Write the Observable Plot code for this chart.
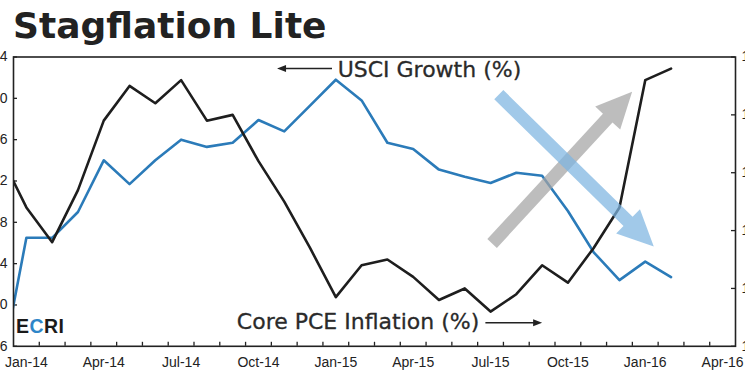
<!DOCTYPE html>
<html>
<head>
<meta charset="utf-8">
<script src="https://cdn.jsdelivr.net/npm/d3@7"></script>
<script src="https://cdn.jsdelivr.net/npm/@observablehq/plot@0.6"></script>
<style>
  html, body { margin: 0; padding: 0; background: #fff; overflow: hidden; }
  #wrap { position: relative; width: 745px; height: 390px; overflow: hidden; background: #fff; }
  #title { position: absolute; left: 13px; top: 8px; margin: 0; font-family: "DejaVu Sans", sans-serif; font-weight: bold; font-size: 36px; line-height: 1; color: #222; white-space: nowrap; }
  #chart { position: absolute; left: -27.3px; top: 0; width: 802px; height: 390px; }
  #chart svg { max-width: none !important; width: 802px; height: 390px; }
  #logo { position: absolute; left: 16px; top: 316.5px; font-family: "Liberation Sans", Arial, sans-serif; font-weight: bold; font-size: 19.5px; line-height: 1; color: #1a1a1a; letter-spacing: 0.4px; }
  #logo .c { color: #2f86c8; }
</style>
</head>
<body>
<div id="wrap">
  <h1 id="title">Stagflation Lite</h1>
  <div id="chart"></div>
  <div id="logo">E<span class="c">C</span>RI</div>
</div>
<script>
// Months (Dec-13 is only partly visible, clipped at the left frame edge)
const months = ["Dec-13","Jan-14","Feb-14","Mar-14","Apr-14","May-14","Jun-14","Jul-14","Aug-14","Sep-14","Oct-14","Nov-14","Dec-14",
  "Jan-15","Feb-15","Mar-15","Apr-15","May-15","Jun-15","Jul-15","Aug-15","Sep-15","Oct-15","Nov-15","Dec-15","Jan-16","Feb-16"];
// USCI growth (%), left axis
const usciGrowth = [0.35,1.65,1.65,1.90,2.40,2.17,2.40,2.60,2.53,2.57,2.79,2.68,2.93,3.18,2.98,2.57,2.51,2.31,2.24,2.18,2.28,2.25,1.91,1.51,1.24,1.42,1.27];
// Core PCE inflation (%), right axis
const corePce = [1.53,1.44,1.38,1.47,1.59,1.65,1.62,1.66,1.59,1.60,1.52,1.45,1.37,1.285,1.34,1.35,1.32,1.28,1.30,1.26,1.29,1.34,1.31,1.37,1.44,1.66,1.68];
// Axis ticks
const xTickLabels = ["Jan-14","Apr-14","Jul-14","Oct-14","Jan-15","Apr-15","Jul-15","Oct-15","Jan-16","Apr-16"];
const leftTicks = [0.6,1.0,1.4,1.8,2.2,2.6,3.0,3.4];
const rightTicks = [1.2,1.3,1.4,1.5,1.6,1.7];
// Annotation arrows (month index, left-axis units)
const trendArrows = [
  {x1: 18.58, y1: 1.59, x2: 24.01, y2: 3.06, fill: "#a3a3a3"},
  {x1: 18.84, y1: 3.03, x2: 24.85, y2: 1.56, fill: "#7db4e0"}
];
const labelArrows = [
  {x1: 12.37, y1: 3.285, x2: 10.24, y2: 3.285, fill: "#222"},
  {x1: 18.32, y1: 0.823, x2: 20.52, y2: 0.823, fill: "#222"}
];
const annotations = [
  {x: 12.57, y: 3.272, text: "USCI Growth (%)"},
  {x: 8.66, y: 0.837, text: "Core PCE Inflation (%)"}
];

// Month index -> x position (centre of the month band); Jan-14 band starts at 0
const startIdx = -1;
const xPos = (i) => i + startIdx + 0.5;
const yMin = 0.6, yMax = 3.4, rMin = 1.2, rMax = 1.7;
const toLeft = (r) => yMin + (r - rMin) * (yMax - yMin) / (rMax - rMin);
const toRight = (l) => rMin + (l - yMin) * (rMax - rMin) / (yMax - yMin);

const usciData = months.map((m, i) => ({x: xPos(i), v: usciGrowth[i]}));
const pceData = months.map((m, i) => ({x: xPos(i), v: toLeft(corePce[i])}));

function arrowMark(data, {shaft, headWidth, headLength, opacity}) {
  return (...args) => {
    const scales = args.find(a => a && typeof a.x === "function" && typeof a.y === "function");
    const g = d3.create("svg:g");
    for (const a of data) {
      const x1 = scales.x(a.x1), y1 = scales.y(a.y1), x2 = scales.x(a.x2), y2 = scales.y(a.y2);
      const dx = x2 - x1, dy = y2 - y1, L = Math.hypot(dx, dy);
      const ux = dx / L, uy = dy / L, px = -uy, py = ux;
      const hw = shaft / 2, HW = headWidth / 2;
      const bx = x2 - ux * headLength, by = y2 - uy * headLength;
      const pts = [[x1 + px*hw, y1 + py*hw], [bx + px*hw, by + py*hw], [bx + px*HW, by + py*HW], [x2, y2],
                   [bx - px*HW, by - py*HW], [bx - px*hw, by - py*hw], [x1 - px*hw, y1 - py*hw]];
      g.append("polygon").attr("points", pts.map(p => p.join(",")).join(" "))
        .attr("fill", a.fill).attr("fill-opacity", opacity);
    }
    return g.node();
  };
}

const tickLenX = 4 / 25.78, tickLenY = 4 * (yMax - yMin) / 289.3;

const plot = Plot.plot({
  width: 802,
  height: 390,
  marginLeft: 40,
  marginRight: 40,
  marginTop: 56.5,
  marginBottom: 44.2,
  style: {fontFamily: "'Liberation Sans', Arial, sans-serif", fontSize: "14px", color: "#222", background: "transparent"},
  x: {domain: [0, 28], axis: null},
  y: {domain: [yMin, yMax], axis: null},
  marks: [
    Plot.axisY(leftTicks, {anchor: "left", tickSize: 0, tickPadding: 6, tickFormat: d => d.toFixed(1), fill: "#222", label: null}),
    Plot.axisY(rightTicks.map(toLeft), {anchor: "right", tickSize: 0, tickPadding: 6, tickFormat: d => toRight(d).toFixed(1), fill: "#222", label: null}),
    Plot.axisX(xTickLabels.map((t, i) => i * 3 + 0.5), {anchor: "bottom", tickSize: 0, tickPadding: 11, tickFormat: d => xTickLabels[Math.round((d - 0.5) / 3)], fill: "#222", label: null}),
    Plot.ruleY(leftTicks, {x1: 0, x2: tickLenX, stroke: "#222", strokeWidth: 1.3}),
    Plot.ruleY(rightTicks.map(toLeft), {x1: 28 - tickLenX, x2: 28, stroke: "#222", strokeWidth: 1.3}),
    Plot.ruleX(d3.range(1, 28), {y1: yMin, y2: yMin + tickLenY, stroke: "#222", strokeWidth: 1.3}),
    Plot.line(usciData, {x: "x", y: "v", stroke: "#2b7bb9", strokeWidth: 2.6, clip: true}),
    Plot.line(pceData, {x: "x", y: "v", stroke: "#1e1e1e", strokeWidth: 2.6, clip: true}),
    arrowMark(trendArrows, {shaft: 13, headWidth: 34, headLength: 36, opacity: 0.72}),
    arrowMark(labelArrows, {shaft: 1.5, headWidth: 7, headLength: 9, opacity: 1}),
    Plot.text(annotations, {x: "x", y: "y", text: "text", textAnchor: "start", fontSize: 22, fontFamily: "'DejaVu Sans', sans-serif", fill: "#2a2a2a", stroke: "#2a2a2a", strokeWidth: 0.3}),
    Plot.frame({stroke: "#222", strokeWidth: 1.6})
  ]
});
document.getElementById("chart").appendChild(plot);
</script>
</body>
</html>
